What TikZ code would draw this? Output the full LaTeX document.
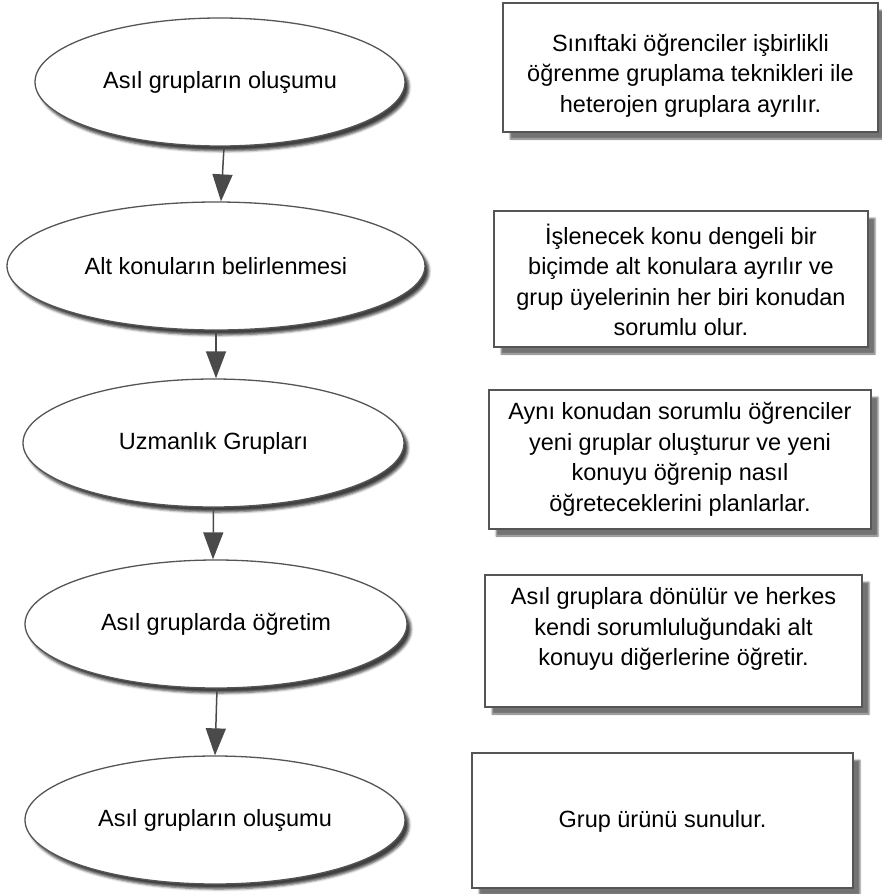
\documentclass[tikz,border=0pt]{standalone}
\usepackage{fontspec}
\setmainfont{Liberation Sans}
\usetikzlibrary{shapes.geometric,arrows.meta,shadows.blur}
\definecolor{edgegray}{HTML}{555555}
\definecolor{arrowgray}{HTML}{4A4A4A}
\begin{document}
\begin{tikzpicture}[x=1pt,y=-1pt,
  stage/.style={ellipse, draw=edgegray, line width=1.3pt, fill=white, inner sep=0pt,
    minimum height=128pt, font=\fontsize{23.5}{28}\selectfont,
    blur shadow={shadow xshift=4pt, shadow yshift=-5pt, shadow blur radius=2.5pt, shadow opacity=75}},
  infobox/.style={rectangle, draw=edgegray, line width=1.3pt, fill=white, inner sep=0pt,
    blur shadow={shadow xshift=7pt, shadow yshift=-7pt, shadow blur radius=1.5pt, shadow opacity=55}},
  infotext/.style={align=center, inner sep=0pt, font=\fontsize{23.5}{30.5}\selectfont},
  flow/.style={draw=arrowgray, line width=1.5pt, -{Triangle[length=27pt,width=20pt]}}
]
\useasboundingbox (0,0) rectangle (881,894);

% process stages
\node[stage, minimum width=370pt] (e1) at (220,82)  {Asıl grupların oluşumu};
\node[stage, minimum width=418pt] (e2) at (216,266) {Alt konuların belirlenmesi};
\node[stage, minimum width=381pt] (e3) at (213.5,443) {Uzmanlık Grupları};
\node[stage, minimum width=382pt] (e4) at (216,624) {Asıl gruplarda öğretim};
\node[stage, minimum width=380pt] (e5) at (215,820) {Asıl grupların oluşumu};

% flow between stages
\draw[flow] ([xshift=4pt]e1.south) -- ([xshift=5pt]e2.north);
\draw[flow] (e2.south) -- ([xshift=2.5pt]e3.north);
\draw[flow] (e3.south) -- ([xshift=-3pt]e4.north);
\draw[flow] ([xshift=1pt]e4.south) -- (e5.north);

% descriptions
\node[infobox, minimum width=375pt, minimum height=129pt] (b1) at (690.5,67.5) {};
\node[infotext] (t1) at ([yshift=-8pt]b1.center)
  {Sınıftaki öğrenciler işbirlikli\\öğrenme gruplama teknikleri ile\\heterojen gruplara ayrılır.};

\node[infobox, minimum width=374pt, minimum height=136pt] (b2) at (681,279) {};
\node[infotext] (t2) at ([yshift=-1pt]b2.center)
  {İşlenecek konu dengeli bir\\biçimde alt konulara ayrılır ve\\grup üyelerinin her biri konudan\\sorumlu olur.};

\node[infobox, minimum width=382pt, minimum height=139pt] (b3) at (680,459.5) {};
\node[infotext] (t3) at (b3.center)
  {Aynı konudan sorumlu öğrenciler\\yeni gruplar oluşturur ve yeni\\konuyu öğrenip nasıl\\öğreteceklerini planlarlar.};

\node[infobox, minimum width=377pt, minimum height=132pt] (b4) at (673.5,641) {};
\node[infotext] (t4) at ([yshift=12pt]b4.center)
  {Asıl gruplara dönülür ve herkes\\kendi sorumluluğundaki alt\\konuyu diğerlerine öğretir.};

\node[infobox, minimum width=381pt, minimum height=135pt] (b5) at (662.5,820.5) {};
\node[infotext] (t5) at ([yshift=-1pt]b5.center) {Grup ürünü sunulur.};
\end{tikzpicture}
\end{document}
